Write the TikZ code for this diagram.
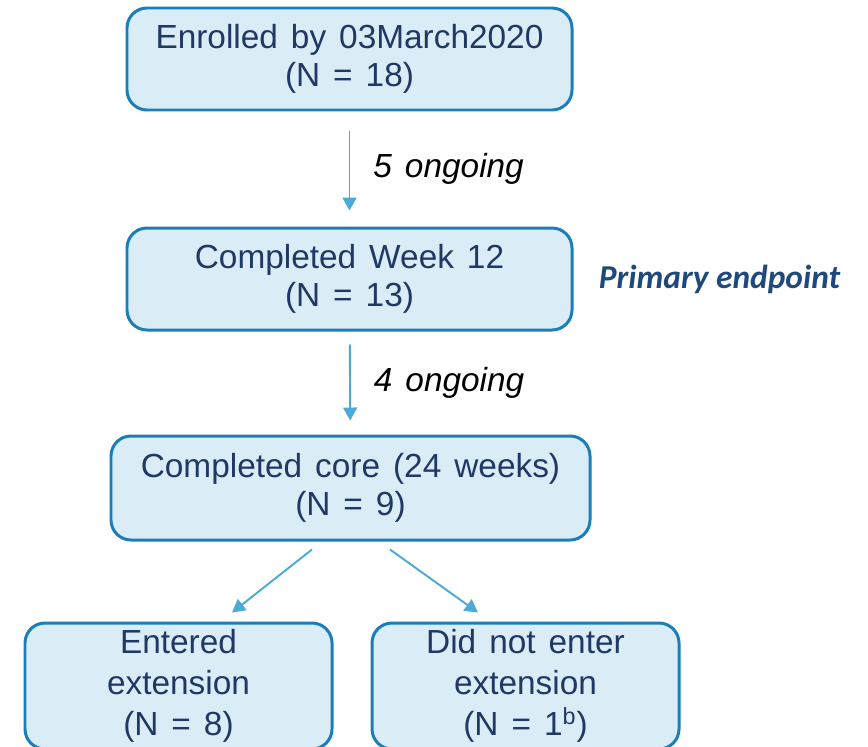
\documentclass[tikz,border=0pt]{standalone}
\usepackage{fontspec}
\setmainfont[WordSpace=1.4]{Liberation Sans}
\newfontfamily\calibri{Carlito}
\usetikzlibrary{positioning,calc,arrows.meta}
\definecolor{boxfill}{HTML}{DAEDF7}
\definecolor{boxline}{HTML}{1B7DB9}
\definecolor{boxtext}{HTML}{1F3864}
\definecolor{arrowcol}{HTML}{4AABD6}
\definecolor{endpt}{HTML}{1F497D}
\begin{document}
\begin{tikzpicture}[every node/.style={font=\fontsize{19}{21.5}\selectfont},
  box/.style={draw=boxline,fill=boxfill,line width=1.7pt,rounded corners=0.4cm,align=center,text=boxtext,inner sep=0pt},
  flow/.style={draw=arrowcol,line width=1.1pt,-{Triangle[width=0.28cm,length=0.26cm]}},
  note/.style={font=\fontsize{19}{21.5}\selectfont\itshape,inner sep=0pt}]
\useasboundingbox (0,0) rectangle (17.36,-14.92);
\clip (0,0) rectangle (17.36,-14.92);
\node[box,minimum width=8.9cm,minimum height=2.04cm] (enr) at (6.99,-1.18) {Enrolled by 03March2020\\(N = 18)};
\node[box,minimum width=8.9cm,minimum height=2.04cm] (wk12) at (6.99,-5.58) {Completed Week 12\\(N = 13)};
\node[box,minimum width=9.58cm,minimum height=2.08cm] (core) at (7.01,-9.76) {Completed core (24 weeks)\\(N = 9)};
\node[box,minimum width=6.14cm,minimum height=2.52cm,font=\fontsize{19}{23.5}\selectfont] (ext) at (3.57,-13.72) {Entered\\extension\\(N = 8)};
\node[box,minimum width=6.14cm,minimum height=2.52cm,font=\fontsize{19}{23.5}\selectfont] (noext) at (10.51,-13.72) {Did not enter\\extension\\(N = 1\textsuperscript{b})};
\node[note,right=0.5cm of wk12,font=\fontsize{19}{21.5}\selectfont\calibri\bfseries\itshape,text=endpt] (prim) {Primary endpoint};
% flow between stages
\draw[flow,shorten <=0.4cm,shorten >=0.32cm] (enr) -- (wk12) node[note,midway,right=0.46cm] (ong5) {5 ongoing};
\draw[flow,shorten <=0.26cm,shorten >=0.28cm] (wk12) -- (core) node[note,midway,right=0.46cm] (ong4) {4 ongoing};
\draw[flow] ($(core.south)+(-0.77,-0.16)$) -- ($(ext.north)+(1.07,0.18)$);
\draw[flow] ($(core.south)+(0.79,-0.16)$) -- ($(noext.north)+(-0.95,0.18)$);
\end{tikzpicture}
\end{document}
